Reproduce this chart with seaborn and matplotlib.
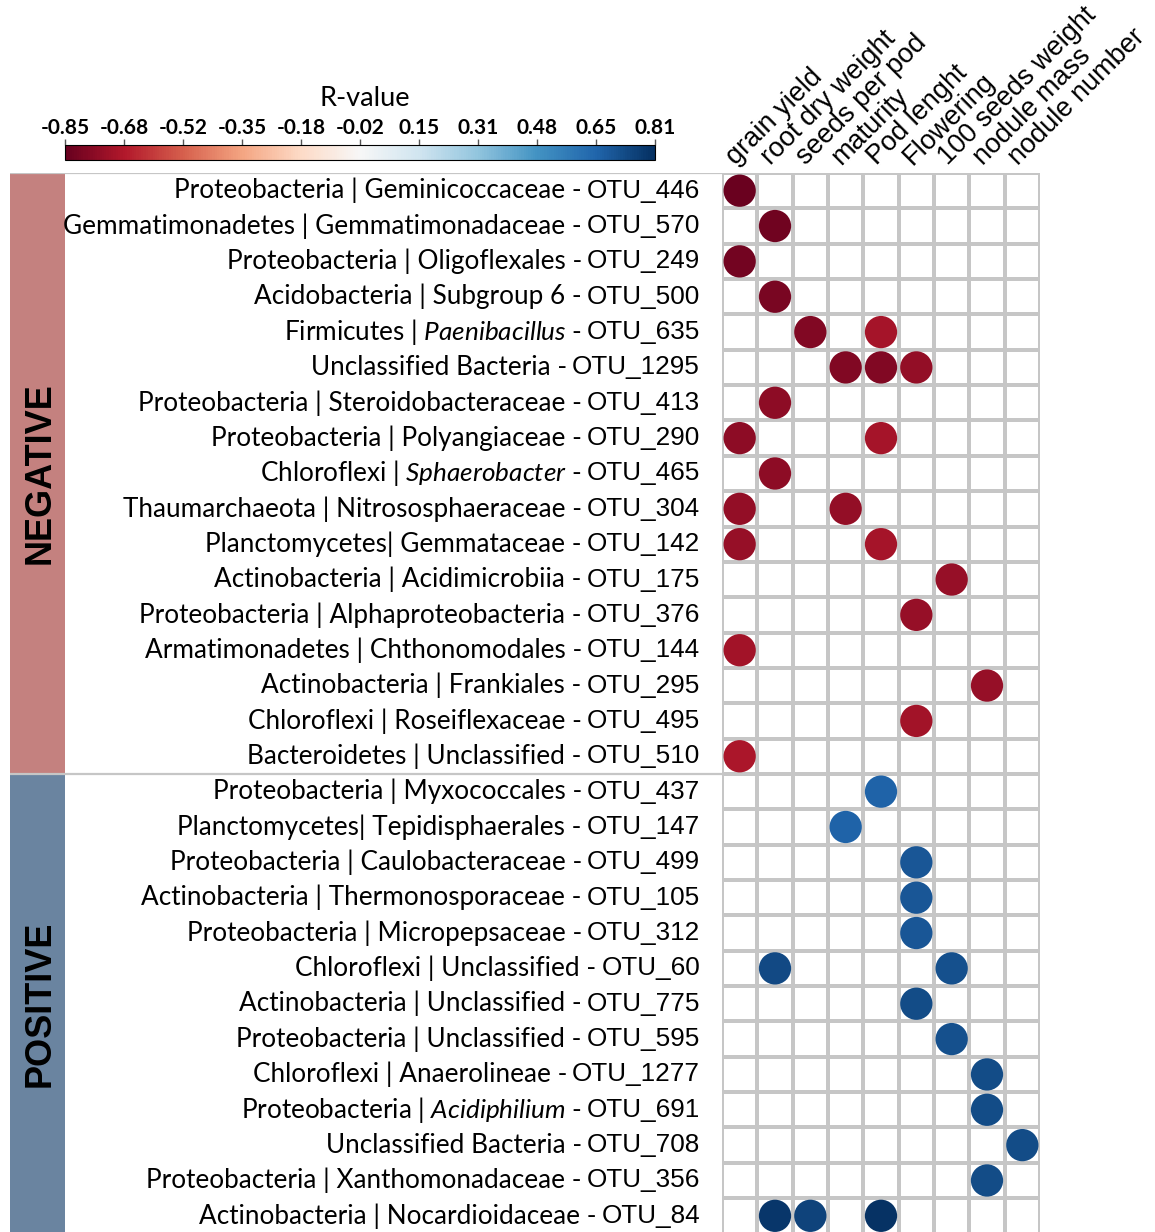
import numpy as np
import pandas as pd
import seaborn as sns
import matplotlib.pyplot as plt
from matplotlib.colors import Normalize, ListedColormap
from matplotlib.cm import ScalarMappable

# rows of the chart (top to bottom)
otus = ["OTU_446", "OTU_570", "OTU_249", "OTU_500", "OTU_635", "OTU_1295", "OTU_413",
        "OTU_290", "OTU_465", "OTU_304", "OTU_142", "OTU_175", "OTU_376", "OTU_144",
        "OTU_295", "OTU_495", "OTU_510",
        "OTU_437", "OTU_147", "OTU_499", "OTU_105", "OTU_312", "OTU_60", "OTU_775",
        "OTU_595", "OTU_1277", "OTU_691", "OTU_708", "OTU_356", "OTU_84"]
taxa = ["Proteobacteria | Geminicoccaceae -", "Gemmatimonadetes | Gemmatimonadaceae -",
        "Proteobacteria | Oligoflexales -", "Acidobacteria | Subgroup 6 -",
        r"Firmicutes | $\mathit{Paenibacillus}$ -", "Unclassified Bacteria -",
        "Proteobacteria | Steroidobacteraceae -", "Proteobacteria | Polyangiaceae -",
        r"Chloroflexi | $\mathit{Sphaerobacter}$ -", "Thaumarchaeota | Nitrososphaeraceae -",
        "Planctomycetes| Gemmataceae -", "Actinobacteria | Acidimicrobiia -",
        "Proteobacteria | Alphaproteobacteria -", "Armatimonadetes | Chthonomodales -",
        "Actinobacteria | Frankiales -", "Chloroflexi | Roseiflexaceae -",
        "Bacteroidetes | Unclassified -",
        "Proteobacteria | Myxococcales -", "Planctomycetes| Tepidisphaerales -",
        "Proteobacteria | Caulobacteraceae -", "Actinobacteria | Thermonosporaceae -",
        "Proteobacteria | Micropepsaceae -", "Chloroflexi | Unclassified -",
        "Actinobacteria | Unclassified -", "Proteobacteria | Unclassified -",
        "Chloroflexi | Anaerolineae -", r"Proteobacteria | $\mathit{Acidiphilium}$ -",
        "Unclassified Bacteria -", "Proteobacteria | Xanthomonadaceae -",
        "Actinobacteria | Nocardioidaceae -"]
n_negative = 17

traits = ["grain yield", "root dry weight", "seeds per pod", "maturity", "Pod lenght",
          "Flowering", "100 seeds weight", "nodule mass", "nodule number"]

# significant correlations: (otu, trait, R)
hit_otu = ["OTU_446", "OTU_570", "OTU_249", "OTU_500", "OTU_635", "OTU_635",
           "OTU_1295", "OTU_1295", "OTU_1295", "OTU_413", "OTU_290", "OTU_290",
           "OTU_465", "OTU_304", "OTU_304", "OTU_142", "OTU_142", "OTU_175",
           "OTU_376", "OTU_144", "OTU_295", "OTU_495", "OTU_510",
           "OTU_437", "OTU_147", "OTU_499", "OTU_105", "OTU_312", "OTU_60", "OTU_60",
           "OTU_775", "OTU_595", "OTU_1277", "OTU_691", "OTU_708", "OTU_356",
           "OTU_84", "OTU_84", "OTU_84"]
hit_trait = ["grain yield", "root dry weight", "grain yield", "root dry weight",
             "seeds per pod", "Pod lenght",
             "maturity", "Pod lenght", "Flowering", "root dry weight",
             "grain yield", "Pod lenght", "root dry weight", "grain yield", "maturity",
             "grain yield", "Pod lenght", "100 seeds weight", "Flowering", "grain yield",
             "nodule mass", "Flowering", "grain yield",
             "Pod lenght", "maturity", "Flowering", "Flowering", "Flowering",
             "root dry weight", "100 seeds weight", "Flowering", "100 seeds weight",
             "nodule mass", "nodule mass", "nodule number", "nodule mass",
             "root dry weight", "seeds per pod", "Pod lenght"]
hit_r = [-0.84, -0.83, -0.82, -0.81, -0.79, -0.71,
         -0.79, -0.79, -0.75, -0.76, -0.76, -0.71,
         -0.76, -0.75, -0.75, -0.74, -0.71, -0.74,
         -0.74, -0.72, -0.74, -0.72, -0.70,
         0.65, 0.65, 0.69, 0.69, 0.69, 0.73, 0.71,
         0.72, 0.71, 0.72, 0.72, 0.72, 0.72,
         0.79, 0.75, 0.80]

cb_ticks = np.linspace(-0.85, 0.81, 11)
cb_labels = ["-0.85", "-0.68", "-0.52", "-0.35", "-0.18", "-0.02",
             "0.15", "0.31", "0.48", "0.65", "0.81"]

plt.rcParams['mathtext.fontset'] = 'custom'
plt.rcParams['mathtext.rm'] = 'Lato'
plt.rcParams['mathtext.it'] = 'Lato:italic'

W, H = 1155, 1232
fig = plt.figure(figsize=(W / 100, H / 100), dpi=100)


def box(x0, y0, x1, y1):
    return [x0 / W, 1 - y1 / H, (x1 - x0) / W, (y1 - y0) / H]


norm = Normalize(vmin=-0.85, vmax=0.81)
gridcol = '#c6c6c6'

# left band with group names
axL = fig.add_axes(box(10, 173, 722, 1233.5), zorder=1)
axL.set_xlim(0, 712)
axL.set_ylim(len(otus), 0)
axL.axis('off')
axL.axhspan(0, n_negative, xmin=0, xmax=55 / 712, color='#c4817f', lw=0)
axL.axhspan(n_negative, len(otus), xmin=0, xmax=55 / 712, color='#6a84a0', lw=0)
axL.axhline(0, color=gridcol, lw=1.6)
axL.axhline(n_negative, color=gridcol, lw=1.6)
axL.text(30, n_negative / 2, 'NEGATIVE', rotation=90, ha='center', va='center',
         fontsize=26, fontweight='bold', family='Liberation Sans')
axL.text(30, (n_negative + len(otus)) / 2, 'POSITIVE', rotation=90, ha='center',
         va='center', fontsize=26, fontweight='bold', family='Liberation Sans')

# main grid
ax = fig.add_axes(box(722, 173, 1040, 1233.5), zorder=2)
blank = pd.DataFrame(np.zeros((len(otus), len(traits))), index=otus, columns=traits)
sns.heatmap(blank, ax=ax, cmap=ListedColormap(['white']), cbar=False,
            linewidths=1.6, linecolor=gridcol)

hits = pd.DataFrame({'otu': hit_otu, 'trait': hit_trait, 'r': hit_r})
hits['x'] = [traits.index(t) + 0.5 for t in hits['trait']]
hits['y'] = [otus.index(o) + 0.5 for o in hits['otu']]
sns.scatterplot(data=hits, x='x', y='y', hue='r', palette='RdBu', hue_norm=norm,
                s=540, linewidth=0, legend=False, ax=ax, zorder=3)
ax.set_xlim(0, len(traits))
ax.set_ylim(len(otus), 0)
ax.set_xlabel('')
ax.set_ylabel('')

ax.xaxis.tick_top()
ax.set_xticks(np.arange(len(traits)) + 0.5)
ax.set_xticklabels(traits, rotation=45, ha='left', va='bottom', rotation_mode='anchor',
                   fontsize=19.5, family='Liberation Sans')
ax.set_yticks(np.arange(len(otus)) + 0.5)
ax.set_yticklabels(otus, fontsize=18.8, family='Liberation Sans', rotation=0)
ax.tick_params(axis='both', length=0)
ax.tick_params(axis='y', pad=15.8)
ax.tick_params(axis='x', pad=2)

# colorbar
cax = fig.add_axes(box(65, 145, 655, 160))
cb = fig.colorbar(ScalarMappable(norm=norm, cmap='RdBu'), cax=cax,
                  orientation='horizontal', ticks=cb_ticks)
cax.xaxis.set_ticks_position('top')
cax.set_xticklabels(cb_labels, fontsize=15, fontweight='bold', family='Lato')
cax.tick_params(length=4, width=1, color='#555555', pad=1)
cb.outline.set_linewidth(0.8)
fig.text(365 / W, 1 - 98 / H, 'R-value', ha='center', va='center', fontsize=19.5,
         family='Lato')

# taxonomy text to the left of each OTU label
fig.canvas.draw()
renderer = fig.canvas.get_renderer()
inv = fig.transFigure.inverted()
for lab, tx in zip(ax.get_yticklabels(), taxa):
    bb = lab.get_window_extent(renderer)
    x0, yc = inv.transform((bb.x0 - 5, (bb.y0 + bb.y1) / 2))
    fig.text(x0, yc, tx, ha='right', va='center', fontsize=18.8, family='Lato')

fig.savefig('out.png', dpi=100)
